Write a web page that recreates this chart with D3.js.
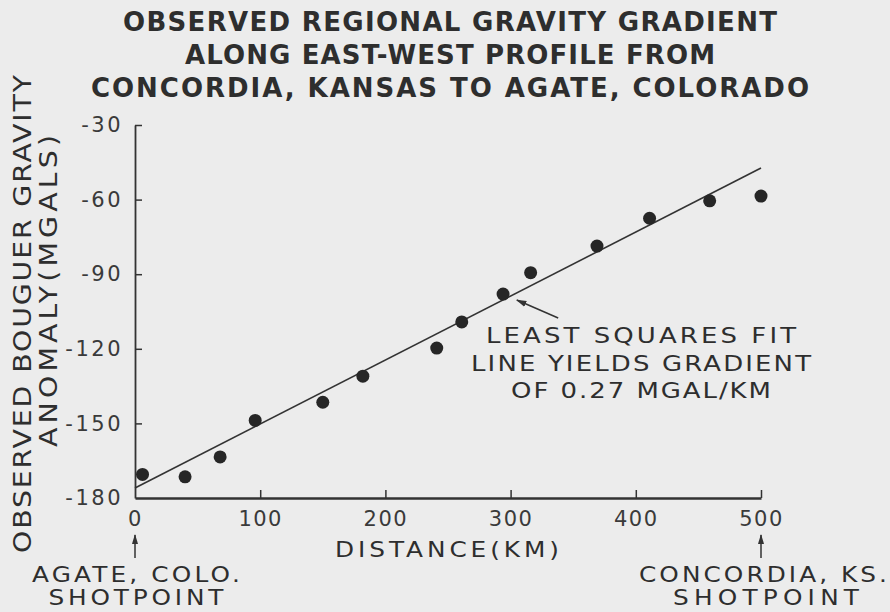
<!DOCTYPE html>
<html>
<head>
    <title>Observed Regional Gravity Gradient</title>
    <style>
        body { margin: 0; background: #ececec; }
        text { fill: #2e2e2e; font-family: "DejaVu Sans", sans-serif; }
        .axis path, .axis line { stroke: #333; }
        .axis text { font-size: 21px; fill: #3a3a3a; font-family: "DejaVu Sans", sans-serif; }
    </style>
    <script src="https://d3js.org/d3.v7.min.js"></script>
</head>
<body>
    <div id="chart"></div>
    <script>
        // stations along the profile (km from Agate) and bouguer anomaly (mgal)
        const distKm = [6, 40, 68, 96, 150, 182, 241, 261, 294, 316, 369, 411, 459, 500];
        const anomaly = [-170.5, -171.5, -163.5, -148.8, -141.5, -131, -119.7, -109.2, -98, -89.4, -78.7, -67.5, -60.5, -58.6];

        // least squares line, end points
        const fitKm = [0, 500];
        const fitMgal = [-176, -47.3];

        const xTicks = [0, 100, 200, 300, 400, 500];
        const yTicks = [-30, -60, -90, -120, -150, -180];

        const titleLines = [
            "OBSERVED REGIONAL GRAVITY GRADIENT",
            "ALONG EAST-WEST PROFILE FROM",
            "CONCORDIA, KANSAS TO AGATE, COLORADO"
        ];
        const yTitle = ["OBSERVED BOUGUER GRAVITY", "ANOMALY(MGALS)"];
        const note = ["LEAST SQUARES FIT", "LINE YIELDS GRADIENT", "OF 0.27 MGAL/KM"];

        const width = 890, height = 612;
        const wide = 1.18; // the lettering is an extended face, stretch it sideways

        const x = d3.scaleLinear().domain([0, 500]).range([135, 761]);
        const y = d3.scaleLinear().domain([-180, -30]).range([498, 125]);

        const svg = d3.select("#chart").append("svg")
            .attr("width", width)
            .attr("height", height);

        svg.append("rect")
            .attr("width", width).attr("height", height)
            .attr("fill", "#ececec");

        const defs = svg.append("defs");
        defs.append("marker")
            .attr("id", "head")
            .attr("viewBox", "0 0 10 10")
            .attr("refX", 9).attr("refY", 5)
            .attr("markerWidth", 7).attr("markerHeight", 7)
            .attr("orient", "auto")
            .append("path")
            .attr("d", "M0,2 L10,5 L0,8 Z")
            .attr("fill", "#333");

        function label(str, cx, cy, size, len, rot) {
            return svg.append("text")
                .attr("transform", `translate(${cx},${cy})${rot ? " rotate(" + rot + ")" : ""} scale(${wide},1)`)
                .attr("text-anchor", "middle")
                .attr("font-size", size)
                .attr("textLength", len / wide)
                .attr("lengthAdjust", "spacing")
                .text(str);
        }

        // title
        const titleLen = [654, 530, 718];
        svg.selectAll(".title")
            .data(titleLines)
            .enter().append("text")
            .attr("class", "title")
            .attr("x", 450)
            .attr("y", (d, i) => 31 + i * 33)
            .attr("text-anchor", "middle")
            .attr("font-size", 26)
            .attr("font-weight", "bold")
            .attr("fill", "#262626")
            .attr("textLength", (d, i) => titleLen[i])
            .attr("lengthAdjust", "spacing")
            .text(d => d);

        // axes
        const xAxis = svg.append("g")
            .attr("class", "axis")
            .attr("transform", `translate(0,${y(-180)})`)
            .call(d3.axisBottom(x).tickValues(xTicks).tickSize(-8).tickSizeOuter(0).tickPadding(13));
        xAxis.select(".domain").attr("stroke-width", 2.5);
        xAxis.selectAll(".tick line").attr("stroke-width", 1.5).filter(d => d === 0).remove();
        xAxis.selectAll(".tick text").attr("letter-spacing", 1.5);

        const yAxis = svg.append("g")
            .attr("class", "axis")
            .attr("transform", `translate(${x(0)},0)`)
            .call(d3.axisLeft(y).tickValues(yTicks).tickSize(-7).tickSizeOuter(0).tickPadding(12)
                .tickFormat(d => d));
        yAxis.select(".domain").attr("stroke-width", 1.8);
        yAxis.selectAll(".tick line").attr("stroke-width", 1.5).filter(d => d === -180).remove();
        yAxis.selectAll(".tick text").attr("letter-spacing", 2.5);

        // y axis title
        label(yTitle[0], 31, 314, 24, 478, -90);
        label(yTitle[1], 57, 291, 24, 312, -90);

        // x axis title
        label("DISTANCE(KM)", 447, 557, 21, 224);

        // fit line
        svg.append("line")
            .attr("x1", x(fitKm[0])).attr("y1", y(fitMgal[0]))
            .attr("x2", x(fitKm[1])).attr("y2", y(fitMgal[1]))
            .attr("stroke", "#333")
            .attr("stroke-width", 1.6);

        // stations
        svg.selectAll(".dot")
            .data(distKm)
            .enter().append("circle")
            .attr("class", "dot")
            .attr("cx", d => x(d))
            .attr("cy", (d, i) => y(anomaly[i]))
            .attr("r", 6.5)
            .attr("fill", "#262626");

        // annotation
        svg.append("line")
            .attr("x1", x(338)).attr("y1", y(-107.6))
            .attr("x2", x(305)).attr("y2", y(-100.4))
            .attr("stroke", "#333")
            .attr("stroke-width", 1.5)
            .attr("marker-end", "url(#head)");

        const noteLen = [310, 340, 260];
        const noteY = [343, 371, 398];
        note.forEach((t, i) => label(t, 641, noteY[i], 22, noteLen[i]));

        // shotpoint markers
        const ends = [
            {km: 0, lines: ["AGATE, COLO.", "SHOTPOINT"], len: [208, 175], cx: [136, 136]},
            {km: 500, lines: ["CONCORDIA, KS.", "SHOTPOINT"], len: [248, 186], cx: [763, 766]}
        ];
        ends.forEach(e => {
            svg.append("line")
                .attr("x1", x(e.km)).attr("y1", 558)
                .attr("x2", x(e.km)).attr("y2", 535)
                .attr("stroke", "#333")
                .attr("stroke-width", 1.5)
                .attr("marker-end", "url(#head)");
            e.lines.forEach((t, i) => label(t, e.cx[i], 582 + i * 23, 21, e.len[i]));
        });
    </script>
</body>
</html>
